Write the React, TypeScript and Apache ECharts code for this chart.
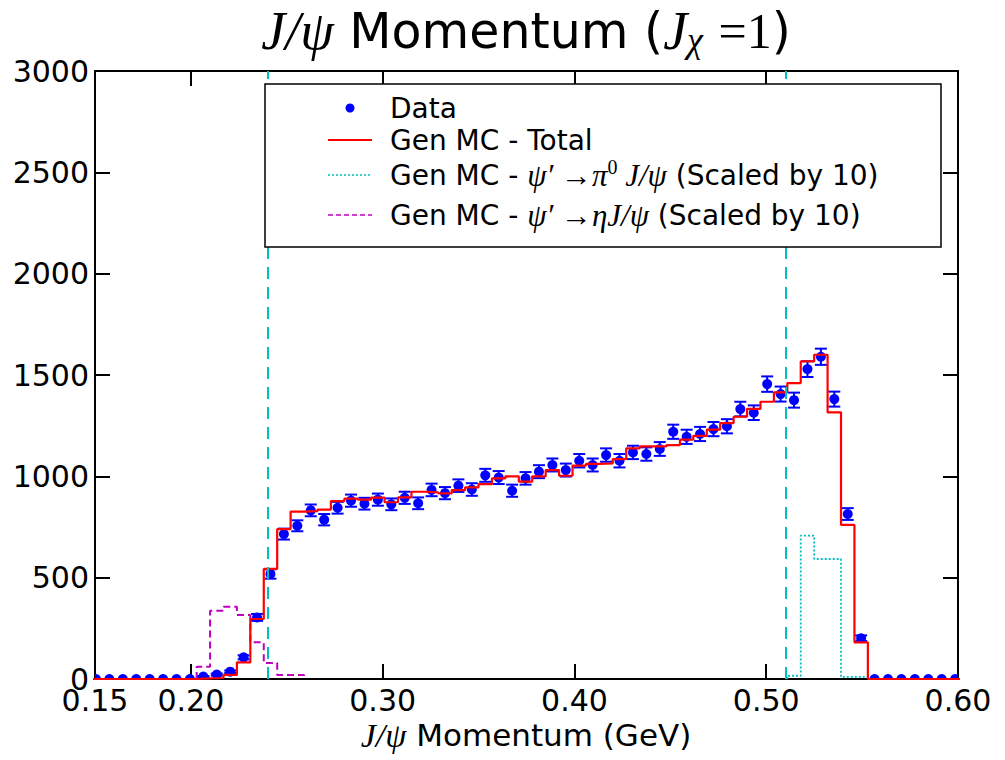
import React, { useEffect, useRef } from "react";
import * as echarts from "echarts";

// Histogram binning (GeV)
const HIST_MIN = 0.147;
const BIN_WIDTH = 0.007;

// Measured counts per bin with their uncertainties
const dataCounts = [
  0, 0, 0, 0, 0, 0, 0, 0,
  12, 22, 36, 107, 304, 518, 715, 756,
  832, 786, 845, 880, 865, 885, 862, 894,
  867, 933, 917, 954, 935, 1005, 994, 929,
  990, 1023, 1056, 1031, 1077, 1056, 1105, 1077,
  1118, 1110, 1135, 1220, 1195, 1209, 1233, 1247,
  1332, 1314, 1455, 1406, 1376, 1529, 1590, 1381,
  814, 201,
  0, 0, 0, 0, 0, 0, 0,
];
const dataErrors = [
  0, 0, 0, 0, 0, 0, 0, 0,
  3, 5, 6, 10, 17, 23, 27, 27,
  29, 28, 29, 30, 29, 30, 29, 30,
  29, 31, 30, 31, 31, 32, 32, 30,
  31, 32, 32, 32, 33, 32, 33, 33,
  33, 33, 34, 35, 35, 35, 35, 35,
  36, 36, 38, 37, 37, 39, 40, 37,
  29, 14,
  0, 0, 0, 0, 0, 0, 0,
];

// Generated MC, total
const totalMC = [
  0, 0, 0, 0, 0, 0, 0, 0,
  3, 5, 20, 82, 296, 543, 740, 826,
  828, 836, 878, 890, 885, 895, 872, 896,
  924, 921, 916, 932, 946, 962, 990, 1000,
  974, 1000, 1031, 1003, 1053, 1061, 1064, 1085,
  1138, 1148, 1148, 1154, 1181, 1200, 1230, 1263,
  1294, 1333, 1368, 1414, 1460, 1567, 1600, 1316,
  760, 181,
  0, 0, 0, 0, 0, 0, 0,
];

// Background components (already scaled by 10), with their first bin index
const etaFirstBin = 8;
const etaMC = [61, 337, 357, 316, 181, 79, 20, 20];
const pi0FirstBin = 52;
const pi0MC = [16, 707, 592, 592, 10, 10];

// Selection window
const cutValues = [0.24, 0.51];

const xTickValues = [0.15, 0.2, 0.3, 0.4, 0.5, 0.6];
const X_MIN = 0.15;
const X_MAX = 0.6;
const Y_MIN = 0;
const Y_MAX = 3000;
const Y_STEP = 500;

const BLUE = "#0000ff";
const RED = "#ff0000";
const CYAN = "#00bfbf";
const MAGENTA = "#bf00bf";
const SANS = '"DejaVu Sans", "Noto Sans", sans-serif';
const MATH = '"Liberation Serif", "DejaVu Serif", serif';

const binLeft = (k: number) => HIST_MIN + k * BIN_WIDTH;
const binCenter = (k: number) => HIST_MIN + (k + 0.5) * BIN_WIDTH;

// Outline of a step histogram, closed down to zero at both ends
function stepOutline(firstBin: number, values: number[]): number[][] {
  const pts: number[][] = [[binLeft(firstBin), 0]];
  values.forEach((v, i) => {
    const a = binLeft(firstBin + i);
    pts.push([a, v], [a + BIN_WIDTH, v]);
  });
  pts.push([binLeft(firstBin + values.length), 0]);
  return pts;
}

const tickStyle = { show: true, inside: true, length: 15, lineStyle: { color: "#000", width: 2 } };
const lineStyleAxis = { show: true, onZero: false, lineStyle: { color: "#000", width: 2 } };

function buildOption(): echarts.EChartsOption {
  const pointData = dataCounts.map((v, k) => [binCenter(k), v, dataErrors[k]]);

  const legendRows = [
    { y: 108, text: "Data" },
    { y: 140, text: "Gen MC - Total" },
    { y: 175, text: "Gen MC - {m|ψ′ →π}{sup|0}{m| J/ψ} (Scaled by 10)" },
    { y: 215, text: "Gen MC - {m|ψ′ →ηJ/ψ} (Scaled by 10)" },
  ];

  const richMath = {
    m: { fontFamily: MATH, fontStyle: "italic", fontSize: 31, lineHeight: 36 },
    sup: { fontFamily: MATH, fontSize: 20, lineHeight: 18, verticalAlign: "top" },
  };

  return {
    animation: false,
    backgroundColor: "#fff",
    grid: { left: 95, right: 47, top: 71, bottom: 81, containLabel: false },
    xAxis: [
      {
        type: "value",
        min: X_MIN,
        max: X_MAX,
        position: "bottom",
        axisLine: lineStyleAxis,
        axisTick: { ...tickStyle, customValues: xTickValues },
        axisLabel: {
          customValues: xTickValues,
          formatter: (v: number) => v.toFixed(2),
          fontFamily: SANS,
          fontSize: 30,
          color: "#000",
          margin: 6,
        },
        splitLine: { show: false },
      },
      {
        type: "value",
        min: X_MIN,
        max: X_MAX,
        position: "top",
        axisLine: lineStyleAxis,
        axisTick: { ...tickStyle, customValues: xTickValues },
        axisLabel: { show: false },
        splitLine: { show: false },
      },
    ],
    yAxis: [
      {
        type: "value",
        min: Y_MIN,
        max: Y_MAX,
        interval: Y_STEP,
        position: "left",
        axisLine: lineStyleAxis,
        axisTick: tickStyle,
        axisLabel: {
          formatter: (v: number) => String(v),
          fontFamily: SANS,
          fontSize: 30,
          color: "#000",
          margin: 6,
        },
        splitLine: { show: false },
      },
      {
        type: "value",
        min: Y_MIN,
        max: Y_MAX,
        interval: Y_STEP,
        position: "right",
        axisLine: lineStyleAxis,
        axisTick: tickStyle,
        axisLabel: { show: false },
        splitLine: { show: false },
      },
    ],
    series: [
      {
        name: "eta",
        type: "line",
        data: stepOutline(etaFirstBin, etaMC),
        symbol: "none",
        clip: true,
        z: 2,
        lineStyle: { color: MAGENTA, width: 2, type: [7, 4] },
        silent: true,
      },
      {
        name: "pi0",
        type: "line",
        data: stepOutline(pi0FirstBin, pi0MC),
        symbol: "none",
        clip: true,
        z: 2,
        lineStyle: { color: CYAN, width: 1.8, type: [2, 2] },
        silent: true,
      },
      {
        name: "Data",
        type: "custom",
        clip: true,
        z: 3,
        data: pointData,
        encode: { x: 0, y: 1 },
        silent: true,
        renderItem: (_params: any, api: any) => {
          const x = api.value(0) as number;
          const y = api.value(1) as number;
          const e = api.value(2) as number;
          const c = api.coord([x, y]);
          const children: any[] = [];
          if (e > 0) {
            const hi = api.coord([x, y + e]);
            const lo = api.coord([x, y - e]);
            const s = { stroke: BLUE, lineWidth: 2 };
            children.push({ type: "line", shape: { x1: c[0], y1: hi[1], x2: c[0], y2: lo[1] }, style: s });
            children.push({ type: "line", shape: { x1: c[0] - 6, y1: hi[1], x2: c[0] + 6, y2: hi[1] }, style: s });
            children.push({ type: "line", shape: { x1: c[0] - 6, y1: lo[1], x2: c[0] + 6, y2: lo[1] }, style: s });
          }
          children.push({ type: "circle", shape: { cx: c[0], cy: c[1], r: 5 }, style: { fill: BLUE } });
          return { type: "group", children };
        },
      },
      {
        name: "Total",
        type: "line",
        data: stepOutline(0, totalMC),
        symbol: "none",
        clip: true,
        z: 4,
        lineStyle: { color: RED, width: 2.2 },
        silent: true,
        markLine: {
          silent: true,
          symbol: ["none", "none"],
          label: { show: false },
          lineStyle: { color: CYAN, width: 2, type: [12, 8] },
          data: cutValues.map((v) => ({ xAxis: v })),
        },
      },
    ],
    graphic: [
      {
        type: "text",
        x: 526,
        y: 31,
        z: 100,
        style: {
          text: "{m|J/ψ} Momentum ({m|J}{sub|χ} {n|=1})",
          fontFamily: SANS,
          fontSize: 49,
          fill: "#000",
          lineHeight: 54,
          align: "center",
          verticalAlign: "middle",
          rich: {
            m: { fontFamily: MATH, fontStyle: "italic", fontSize: 54, lineHeight: 54 },
            sub: { fontFamily: MATH, fontStyle: "italic", fontSize: 36, lineHeight: 16, verticalAlign: "bottom" },
            n: { fontFamily: MATH, fontSize: 50, lineHeight: 54 },
          },
        } as any,
      },
      {
        type: "text",
        x: 526,
        y: 735,
        z: 100,
        style: {
          text: "{m|J/ψ} Momentum (GeV)",
          fontFamily: SANS,
          fontSize: 31,
          fill: "#000",
          lineHeight: 36,
          align: "center",
          verticalAlign: "middle",
          rich: { m: { fontFamily: MATH, fontStyle: "italic", fontSize: 34, lineHeight: 36 } },
        } as any,
      },
      {
        type: "group",
        z: 100,
        children: [
          {
            type: "rect",
            shape: { x: 265, y: 84, width: 676, height: 163 },
            style: { fill: "#fff", stroke: "#000", lineWidth: 1.5 },
            z: 100,
          },
          { type: "circle", shape: { cx: 350, cy: 108, r: 4.5 }, style: { fill: BLUE }, z: 101 },
          { type: "line", shape: { x1: 328, y1: 140, x2: 372, y2: 140 }, style: { stroke: RED, lineWidth: 1.8 }, z: 101 },
          {
            type: "line",
            shape: { x1: 328, y1: 175, x2: 372, y2: 175 },
            style: { stroke: CYAN, lineWidth: 1.6, lineDash: [2, 2] },
            z: 101,
          },
          {
            type: "line",
            shape: { x1: 328, y1: 215, x2: 372, y2: 215 },
            style: { stroke: MAGENTA, lineWidth: 1.6, lineDash: [5, 3] },
            z: 101,
          },
          ...legendRows.map((r) => ({
            type: "text",
            x: 390,
            y: r.y,
            z: 101,
            style: {
              text: r.text,
              fontFamily: SANS,
              fontSize: 28,
              fill: "#000",
              lineHeight: 36,
              align: "left",
              verticalAlign: "middle",
              rich: richMath,
            } as any,
          })),
        ],
      },
    ],
  } as any;
}

export default function App() {
  const ref = useRef<HTMLDivElement>(null);
  useEffect(() => {
    if (!ref.current) return;
    const chart = echarts.init(ref.current, undefined, { renderer: "svg" });
    chart.setOption(buildOption());
    return () => chart.dispose();
  }, []);
  return (
    <div
      ref={ref}
      style={{ position: "fixed", left: 0, top: 0, width: 1005, height: 760, background: "#fff" }}
    />
  );
}
